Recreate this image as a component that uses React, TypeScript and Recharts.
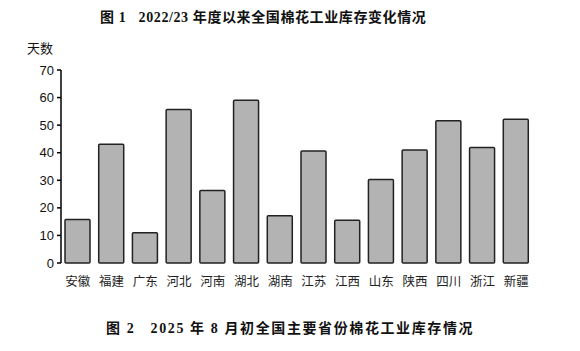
import React from 'react';
import {Bar, BarChart, XAxis, YAxis} from 'recharts';

const provinces = ['安徽', '福建', '广东', '河北', '河南', '湖北', '湖南', '江苏', '江西', '山东', '陕西', '四川', '浙江', '新疆'];
const days = [15.8, 43.1, 11, 55.7, 26.3, 59, 17.1, 40.6, 15.5, 30.3, 41, 51.6, 41.9, 52.1];
const yTicks = [0, 10, 20, 30, 40, 50, 60, 70];
const boundaryTicks = provinces.map((_, i) => i).concat([provinces.length]);

const data = provinces.map((name, i) => ({name, days: days[i], pos: i + 0.5}));

const cjk = '"Noto Sans CJK SC", sans-serif';
const serif = '"Liberation Serif", "Noto Sans CJK SC", serif';

const App: React.FC = () => {
    return (
        <div style={{position: 'absolute', left: 0, top: 0, width: 580, height: 351, background: '#fff'}}>
            <div style={{
                position: 'absolute', top: 6, left: 100, fontFamily: serif, fontWeight: 'bold',
                fontSize: 14, letterSpacing: 0.6, whiteSpace: 'pre', color: '#111'
            }}>
                {'图 1   2022/23 年度以来全国棉花工业库存变化情况'}
            </div>
            <div style={{position: 'absolute', top: 38, left: 27, fontFamily: cjk, fontSize: 13, color: '#111'}}>
                天数
            </div>
            <div style={{position: 'absolute', left: 0, top: 0}}>
                <BarChart width={580} height={351} data={data}
                          margin={{top: 70, right: 47, left: 21, bottom: 58}}>
                    <XAxis xAxisId="grid" type="number" dataKey="pos" domain={[0, provinces.length]}
                           ticks={boundaryTicks} height={0} tickSize={4} tickFormatter={() => ''}
                           stroke="#000" strokeWidth={1.5} allowDataOverflow/>
                    <XAxis dataKey="name" height={30} axisLine={false} tickLine={false} interval={0}
                           tick={{fontSize: 12.5, fill: '#222', fontFamily: cjk}} tickMargin={8}/>
                    <YAxis domain={[0, 70]} ticks={yTicks} width={40} tickSize={4} tickMargin={3}
                           stroke="#000" strokeWidth={1.5}
                           tick={{fontSize: 13, fill: '#111', fontFamily: '"Liberation Sans", Arial, sans-serif'}}/>
                    <Bar dataKey="days" barSize={25} fill="#b3b3b3" stroke="#222" strokeWidth={1.5}
                         radius={1} isAnimationActive={false}/>
                </BarChart>
            </div>
            <div style={{
                position: 'absolute', top: 317, left: 106, fontFamily: serif, fontWeight: 'bold',
                fontSize: 14, letterSpacing: 1.6, whiteSpace: 'pre', color: '#111'
            }}>
                {'图 2   2025 年 8 月初全国主要省份棉花工业库存情况'}
            </div>
        </div>
    );
};

export default App;
